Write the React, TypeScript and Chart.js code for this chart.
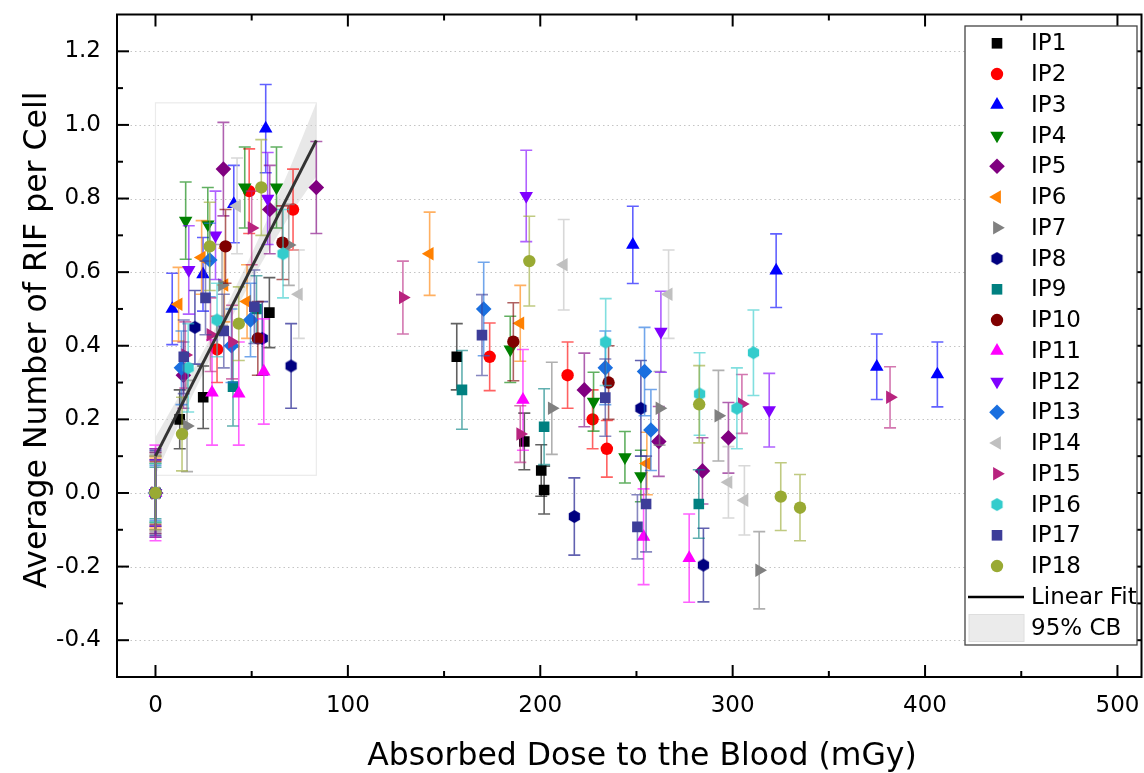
import React, { useEffect, useRef } from "react";
import { Chart, registerables } from "chart.js";

Chart.register(...registerables);

type Pt = [number, number, number]; // [dose mGy, mean RIF, error]

const ip1: Pt[] = [[0, 0, 0.09], [12.6, 0.2, 0.08], [24.8, 0.26, 0.085], [59.2, 0.49, 0.095], [156.6, 0.37, 0.09], [191.7, 0.14, 0.077], [200.5, 0.061, 0.07], [202, 0.008, 0.065]];
const ip2: Pt[] = [[0, 0, 0.11], [32, 0.39, 0.09], [48.7, 0.82, 0.115], [71.5, 0.77, 0.11], [173.7, 0.37, 0.092], [214.2, 0.32, 0.09], [227.2, 0.2, 0.08], [234.6, 0.12, 0.077]];
const ip3: Pt[] = [[0, 0, 0.12], [8.7, 0.5, 0.097], [24.7, 0.594, 0.1], [40.7, 0.785, 0.105], [57.3, 0.99, 0.12], [248.1, 0.674, 0.105], [322.6, 0.604, 0.1], [374.9, 0.343, 0.089], [406.4, 0.322, 0.088]];
const ip4: Pt[] = [[0, 0, 0.08], [15.7, 0.74, 0.105], [27.2, 0.73, 0.1], [46.4, 0.83, 0.11], [62.9, 0.83, 0.11], [184.4, 0.39, 0.09], [227.7, 0.248, 0.08], [244, 0.097, 0.07], [252.3, 0.046, 0.07]];
const ip5: Pt[] = [[0, 0, 0.1], [14.5, 0.32, 0.09], [35.3, 0.88, 0.127], [59.4, 0.77, 0.12], [83.6, 0.83, 0.125], [222.9, 0.28, 0.1], [261.6, 0.14, 0.095], [284.3, 0.06, 0.09], [297.8, 0.15, 0.096]];
const ip6: Pt[] = [[0, 0, 0.095], [12, 0.513, 0.1], [24, 0.64, 0.1], [35.8, 0.565, 0.1], [47.6, 0.52, 0.1], [142.5, 0.65, 0.113], [189.6, 0.461, 0.103], [255.4, 0.08, 0.085]];
const ip7: Pt[] = [[0, 0, 0.105], [16.4, 0.182, 0.124], [34.6, 0.565, 0.11], [69.3, 0.674, 0.11], [206, 0.23, 0.125], [262, 0.23, 0.1], [292.6, 0.21, 0.123], [313.8, -0.21, 0.105]];
const ip8: Pt[] = [[0, 0, 0.115], [20.5, 0.45, 0.1], [55.5, 0.42, 0.1], [70.5, 0.345, 0.115], [217.7, -0.064, 0.105], [252.3, 0.23, 0.13], [284.8, -0.196, 0.1]];
const ip9: Pt[] = [[0, 0, 0.07], [40.3, 0.289, 0.107], [52.5, 0.5, 0.09], [159.3, 0.28, 0.107], [202, 0.18, 0.103], [282.4, -0.03, 0.093]];
const ip10: Pt[] = [[0, 0, 0.085], [36.4, 0.67, 0.1], [53.2, 0.42, 0.1], [66, 0.68, 0.1], [186, 0.411, 0.106], [235.5, 0.3, 0.1]];
const ip11: Pt[] = [[0, 0, 0.13], [29.4, 0.273, 0.143], [43.3, 0.27, 0.14], [56.3, 0.33, 0.143], [191, 0.253, 0.137], [253.7, -0.119, 0.13], [277.4, -0.177, 0.12]];
const ip12: Pt[] = [[0, 0, 0.09], [17.3, 0.606, 0.12], [31.2, 0.7, 0.12], [58.3, 0.8, 0.125], [192.7, 0.807, 0.124], [262.7, 0.438, 0.11], [319, 0.225, 0.1]];
const ip13: Pt[] = [[0, 0, 0.075], [13.5, 0.34, 0.1], [28.2, 0.633, 0.1], [39.5, 0.4, 0.1], [49.4, 0.47, 0.1], [170.6, 0.5, 0.127], [233.8, 0.34, 0.1], [254.2, 0.33, 0.12], [257.5, 0.171, 0.11]];
const ip14: Pt[] = [[0, 0, 0.1], [42.4, 0.78, 0.13], [74.5, 0.54, 0.12], [212.2, 0.62, 0.123], [266.7, 0.54, 0.12], [297.8, 0.029, 0.097], [306.1, -0.02, 0.094]];
const ip15: Pt[] = [[0, 0, 0.12], [15.5, 0.375, 0.09], [28.6, 0.43, 0.1], [39.8, 0.41, 0.1], [50, 0.72, 0.1], [128.6, 0.531, 0.099], [189.6, 0.16, 0.077], [304.8, 0.242, 0.08], [381.8, 0.26, 0.083]];
const ip16: Pt[] = [[0, 0, 0.08], [17, 0.34, 0.12], [32, 0.47, 0.1], [66.3, 0.65, 0.12], [234, 0.41, 0.118], [282.8, 0.269, 0.112], [302.2, 0.23, 0.11], [310.8, 0.381, 0.116]];
const ip17: Pt[] = [[0, 0, 0.11], [14.7, 0.37, 0.1], [26, 0.53, 0.1], [35.5, 0.44, 0.1], [51.4, 0.506, 0.1], [169.7, 0.429, 0.11], [233.8, 0.259, 0.105], [250.5, -0.092, 0.087], [255, -0.03, 0.13]];
const ip18: Pt[] = [[0, 0, 0.1], [13.8, 0.16, 0.1], [28.2, 0.67, 0.12], [43.3, 0.46, 0.1], [55, 0.83, 0.13], [194.3, 0.63, 0.122], [282.6, 0.241, 0.105], [325, -0.01, 0.092], [335, -0.04, 0.09]];

const seriesData: Pt[][] = [ip1, ip2, ip3, ip4, ip5, ip6, ip7, ip8, ip9, ip10, ip11, ip12, ip13, ip14, ip15, ip16, ip17, ip18];
const seriesNames = ["IP1", "IP2", "IP3", "IP4", "IP5", "IP6", "IP7", "IP8", "IP9", "IP10", "IP11", "IP12", "IP13", "IP14", "IP15", "IP16", "IP17", "IP18"];
const seriesColors = ["#000000", "#ff0000", "#0000ff", "#008000", "#800080", "#ff8000", "#808080", "#000080", "#008080", "#800000", "#ff00ff", "#8000ff", "#1a6fdf", "#c0c0c0", "#b8237f", "#33cccc", "#3d3d99", "#99aa33"];
const seriesShapes = ["square", "circle", "up", "down", "diamond", "left", "right", "hex", "square", "circle", "up", "down", "diamond", "left", "right", "hex", "square", "circle"];

const fitDose = [0, 83.6];
const fitMean = [0.1, 0.958];
const bandDose = [0, 10, 20, 30, 40, 50, 60, 70, 83.6];
const bandLower = [0.048, 0.163, 0.274, 0.38, 0.481, 0.578, 0.669, 0.756, 0.86];
const bandUpper = [0.152, 0.243, 0.338, 0.436, 0.541, 0.65, 0.765, 0.884, 1.06];

const xTicks = [0, 100, 200, 300, 400, 500];
const xTickLabels = ["0", "100", "200", "300", "400", "500"];
const xMinorTicks = [50, 150, 250, 350, 450];
const yTicks = [-0.4, -0.2, 0, 0.2, 0.4, 0.6, 0.8, 1.0, 1.2];
const yTickLabels = ["-0.4", "-0.2", "0.0", "0.2", "0.4", "0.6", "0.8", "1.0", "1.2"];
const yMinorTicks = [-0.3, -0.1, 0.1, 0.3, 0.5, 0.7, 0.9, 1.1];

const FONT = "DejaVu Sans";

function rgba(hex: string, a: number) {
  const n = parseInt(hex.slice(1), 16);
  return `rgba(${(n >> 16) & 255},${(n >> 8) & 255},${n & 255},${a})`;
}

function makeHex(color: string, r: number) {
  const c = document.createElement("canvas");
  const s = Math.ceil(2 * r + 2);
  c.width = s;
  c.height = s;
  const g = c.getContext("2d")!;
  g.fillStyle = color;
  g.beginPath();
  for (let k = 0; k < 6; k++) {
    const a = -Math.PI / 2 + (k * Math.PI) / 3;
    const px = s / 2 + r * Math.cos(a);
    const py = s / 2 + r * Math.sin(a);
    if (k === 0) g.moveTo(px, py);
    else g.lineTo(px, py);
  }
  g.closePath();
  g.fill();
  return c;
}

function styleFor(shape: string, color: string, hexes: Record<string, HTMLCanvasElement>) {
  switch (shape) {
    case "square": return { pointStyle: "rect", pointRadius: 7.5, pointRotation: 0 };
    case "circle": return { pointStyle: "circle", pointRadius: 6.2, pointRotation: 0 };
    case "up": return { pointStyle: "triangle", pointRadius: 7.8, pointRotation: 0 };
    case "down": return { pointStyle: "triangle", pointRadius: 7.8, pointRotation: 180 };
    case "left": return { pointStyle: "triangle", pointRadius: 7.8, pointRotation: 270 };
    case "right": return { pointStyle: "triangle", pointRadius: 7.8, pointRotation: 90 };
    case "diamond": return { pointStyle: "rectRot", pointRadius: 7.8, pointRotation: 0 };
    default: return { pointStyle: hexes[color], pointRadius: 6.5, pointRotation: 0 };
  }
}

function drawShape(ctx: CanvasRenderingContext2D, shape: string, x: number, y: number, color: string, hexes: Record<string, HTMLCanvasElement>) {
  ctx.save();
  ctx.fillStyle = color;
  if (shape === "hex") {
    const img = hexes[color];
    ctx.drawImage(img, x - img.width / 2, y - img.height / 2);
    ctx.restore();
    return;
  }
  ctx.beginPath();
  if (shape === "square") {
    const h = 7.5 * Math.SQRT1_2;
    ctx.rect(x - h, y - h, 2 * h, 2 * h);
  } else if (shape === "circle") {
    ctx.arc(x, y, 6.2, 0, Math.PI * 2);
  } else if (shape === "diamond") {
    const r = 7.8;
    ctx.moveTo(x, y - r); ctx.lineTo(x + r, y); ctx.lineTo(x, y + r); ctx.lineTo(x - r, y); ctx.closePath();
  } else {
    const rot = shape === "up" ? 0 : shape === "down" ? 180 : shape === "left" ? 270 : 90;
    let rad = (rot * Math.PI) / 180;
    const r = 7.8;
    for (let k = 0; k < 3; k++) {
      const px = x + Math.sin(rad) * r;
      const py = y - Math.cos(rad) * r;
      if (k === 0) ctx.moveTo(px, py); else ctx.lineTo(px, py);
      rad += (2 * Math.PI) / 3;
    }
    ctx.closePath();
  }
  ctx.fill();
  ctx.restore();
}

function zeroPadding(axis: any) {
  axis.paddingTop = 0;
  axis.paddingBottom = 0;
  axis.paddingLeft = 0;
  axis.paddingRight = 0;
}

export default function App() {
  const ref = useRef<HTMLCanvasElement>(null);

  useEffect(() => {
    const canvas = ref.current!;
    const hexes: Record<string, HTMLCanvasElement> = {};
    seriesColors.forEach((c) => { hexes[c] = makeHex(c, 6.5); });

    const ipDatasets = seriesData.map((pts, i) => {
      const st = styleFor(seriesShapes[i], seriesColors[i], hexes);
      return {
        type: "scatter",
        label: seriesNames[i],
        data: pts.map((p) => ({ x: p[0], y: p[1] })),
        errs: pts.map((p) => p[2]),
        errColor: rgba(seriesColors[i], 0.62),
        pointBackgroundColor: seriesColors[i],
        pointBorderColor: seriesColors[i],
        pointBorderWidth: 0,
        pointHoverRadius: st.pointRadius,
        ...st,
        order: 100 - i,
      } as any;
    });

    const fitDataset: any = {
      type: "line",
      label: "Linear Fit",
      data: fitDose.map((x, i) => ({ x, y: fitMean[i] })),
      borderColor: "#333333",
      borderWidth: 3,
      pointRadius: 0,
      fill: false,
      order: 0,
    };
    const bandUpperDs: any = {
      type: "line",
      label: "95% CB upper",
      data: bandDose.map((x, i) => ({ x, y: bandUpper[i] })),
      borderWidth: 0,
      borderColor: "rgba(0,0,0,0)",
      backgroundColor: "rgba(205,205,205,0.45)",
      pointRadius: 0,
      fill: "+1",
      order: 1000,
    };
    const bandLowerDs: any = {
      type: "line",
      label: "95% CB lower",
      data: bandDose.map((x, i) => ({ x, y: bandLower[i] })),
      borderWidth: 0,
      borderColor: "rgba(0,0,0,0)",
      pointRadius: 0,
      fill: false,
      order: 1001,
    };

    const errorBars = {
      id: "errorBars",
      beforeDatasetDraw(chart: any, args: any) {
        const ds = chart.data.datasets[args.index];
        if (!ds.errs) return;
        const { ctx } = chart;
        const xs = chart.scales.x;
        const ys = chart.scales.y;
        ctx.save();
        ctx.strokeStyle = ds.errColor;
        ctx.lineWidth = 1.6;
        ds.data.forEach((p: any, i: number) => {
          const e = ds.errs[i];
          const px = xs.getPixelForValue(p.x);
          const top = ys.getPixelForValue(p.y + e);
          const bot = ys.getPixelForValue(p.y - e);
          ctx.beginPath();
          ctx.moveTo(px, top); ctx.lineTo(px, bot);
          ctx.moveTo(px - 6, top); ctx.lineTo(px + 6, top);
          ctx.moveTo(px - 6, bot); ctx.lineTo(px + 6, bot);
          ctx.stroke();
        });
        ctx.restore();
      },
    };

    const background = {
      id: "background",
      beforeDatasetsDraw(chart: any) {
        const { ctx, chartArea: a } = chart;
        const xs = chart.scales.x;
        const ys = chart.scales.y;
        ctx.save();
        ctx.strokeStyle = "#c4c4c4";
        ctx.lineWidth = 1;
        ctx.setLineDash([1.5, 3]);
        yTicks.forEach((v) => {
          const py = Math.round(ys.getPixelForValue(v)) + 0.5;
          ctx.beginPath(); ctx.moveTo(a.left, py); ctx.lineTo(a.right, py); ctx.stroke();
        });
        ctx.setLineDash([]);
        const x0 = xs.getPixelForValue(bandDose[0]);
        const x1 = xs.getPixelForValue(bandDose[bandDose.length - 1]);
        const y0 = ys.getPixelForValue(bandLower[0]);
        const y1 = ys.getPixelForValue(bandUpper[bandUpper.length - 1]);
        ctx.strokeStyle = "#ebebeb";
        ctx.lineWidth = 1.2;
        ctx.strokeRect(x0, y1, x1 - x0, y0 - y1);
        ctx.restore();
      },
    };

    const frame = {
      id: "frame",
      afterDatasetsDraw(chart: any) {
        const { ctx, chartArea: a } = chart;
        const xs = chart.scales.x;
        const ys = chart.scales.y;
        ctx.save();
        ctx.strokeStyle = "#000";
        ctx.lineWidth = 2;
        ctx.strokeRect(a.left, a.top, a.right - a.left, a.bottom - a.top);
        const tick = (x1: number, y1: number, x2: number, y2: number) => {
          ctx.beginPath(); ctx.moveTo(x1, y1); ctx.lineTo(x2, y2); ctx.stroke();
        };
        xTicks.forEach((v) => {
          const px = xs.getPixelForValue(v);
          tick(px, a.bottom, px, a.bottom - 12);
          tick(px, a.top, px, a.top + 12);
        });
        xMinorTicks.forEach((v) => {
          const px = xs.getPixelForValue(v);
          tick(px, a.bottom, px, a.bottom - 6);
          tick(px, a.top, px, a.top + 6);
        });
        yTicks.forEach((v) => {
          const py = ys.getPixelForValue(v);
          tick(a.left, py, a.left + 12, py);
          tick(a.right, py, a.right - 12, py);
        });
        yMinorTicks.forEach((v) => {
          const py = ys.getPixelForValue(v);
          tick(a.left, py, a.left + 6, py);
          tick(a.right, py, a.right - 6, py);
        });
        ctx.restore();
      },
      afterDraw(chart: any) {
        const { ctx } = chart;
        ctx.save();
        const lx = 965, ly = 26, lw = 172, lh = 619;
        ctx.fillStyle = "#fff";
        ctx.fillRect(lx, ly, lw, lh);
        ctx.strokeStyle = "#444";
        ctx.lineWidth = 1.3;
        ctx.strokeRect(lx, ly, lw, lh);
        ctx.font = `23px "${FONT}"`;
        ctx.textBaseline = "middle";
        ctx.textAlign = "left";
        ctx.fillStyle = "#000";
        seriesNames.forEach((name, i) => {
          const y = 43.3 + i * 30.75;
          drawShape(ctx, seriesShapes[i], 997, y, seriesColors[i], hexes);
          ctx.fillStyle = "#000";
          ctx.fillText(name, 1031, y + 1);
        });
        const yFit = 597;
        ctx.strokeStyle = "#000";
        ctx.lineWidth = 2.5;
        ctx.beginPath(); ctx.moveTo(968, yFit); ctx.lineTo(1024, yFit); ctx.stroke();
        ctx.fillText("Linear Fit", 1031, yFit + 1);
        const yCb = 628;
        ctx.fillStyle = "#ebebeb";
        ctx.fillRect(969, yCb - 13.5, 55, 27);
        ctx.strokeStyle = "#dedede";
        ctx.lineWidth = 1;
        ctx.strokeRect(969, yCb - 13.5, 55, 27);
        ctx.fillStyle = "#000";
        ctx.fillText("95% CB", 1031, yCb + 1);
        ctx.font = `31.5px "${FONT}"`;
        ctx.textAlign = "center";
        ctx.textBaseline = "alphabetic";
        ctx.fillText("Absorbed Dose to the Blood (mGy)", 642, 765);
        ctx.save();
        ctx.translate(46, 340);
        ctx.rotate(-Math.PI / 2);
        ctx.fillText("Average Number of RIF per Cell", 0, 0);
        ctx.restore();
        ctx.restore();
      },
    };

    const chart = new Chart(canvas, {
      type: "scatter",
      data: { datasets: [...ipDatasets, fitDataset, bandUpperDs, bandLowerDs] },
      options: {
        animation: false,
        responsive: false,
        events: [],
        layout: { autoPadding: false, padding: { top: 14.5, right: 2.5, left: 0, bottom: 0 } },
        plugins: { legend: { display: false }, tooltip: { enabled: false } },
        scales: {
          x: {
            type: "linear",
            min: -20,
            max: 512.5,
            grid: { display: false, drawTicks: false },
            border: { display: false },
            afterBuildTicks: (axis: any) => { axis.ticks = xTicks.map((v) => ({ value: v })); },
            afterFit: (axis: any) => { axis.height = 96; zeroPadding(axis); },
            ticks: {
              autoSkip: false,
              maxRotation: 0,
              padding: 15,
              color: "#000",
              font: { family: FONT, size: 23 },
              callback: (_v: any, i: number) => xTickLabels[i],
            },
          },
          y: {
            type: "linear",
            min: -0.5,
            max: 1.3,
            grid: { display: false, drawTicks: false },
            border: { display: false },
            afterBuildTicks: (axis: any) => { axis.ticks = yTicks.map((v) => ({ value: v })); },
            afterFit: (axis: any) => { axis.width = 117; zeroPadding(axis); },
            ticks: {
              autoSkip: false,
              padding: 16,
              color: "#000",
              font: { family: FONT, size: 23 },
              callback: (_v: any, i: number) => yTickLabels[i],
            },
          },
        },
      } as any,
      plugins: [background, errorBars, frame],
    } as any);

    return () => chart.destroy();
  }, []);

  return (
    <div style={{ position: "fixed", left: 0, top: 0, width: 1144, height: 773, background: "#fff" }}>
      <canvas ref={ref} width={1144} height={773} style={{ display: "block", width: 1144, height: 773 }} />
    </div>
  );
}
